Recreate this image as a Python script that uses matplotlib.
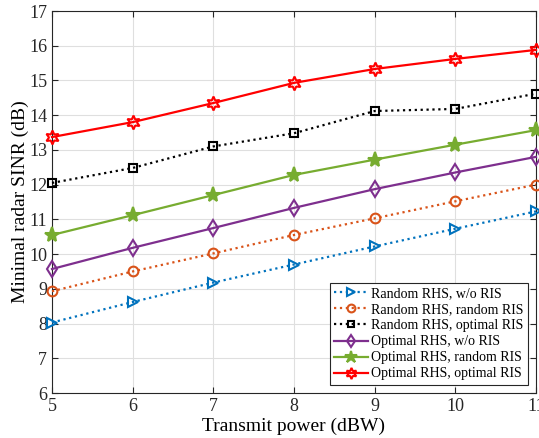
import matplotlib
matplotlib.use("Agg")
import matplotlib.pyplot as plt

plt.rcParams['font.family'] = ['Liberation Serif', 'DejaVu Serif']
plt.rcParams['mathtext.fontset'] = 'stix'

power = [5, 6, 7, 8, 9, 10, 11]
rand_wo = [8.03, 8.62, 9.18, 9.70, 10.22, 10.73, 11.23]
rand_rand = [8.93, 9.50, 10.02, 10.55, 11.03, 11.52, 12.00]
rand_opt = [12.05, 12.48, 13.10, 13.48, 14.12, 14.18, 14.62]
opt_wo = [9.57, 10.18, 10.75, 11.33, 11.87, 12.35, 12.80]
opt_rand = [10.55, 11.12, 11.70, 12.28, 12.72, 13.15, 13.57]
opt_opt = [13.37, 13.80, 14.35, 14.93, 15.33, 15.62, 15.88]
labels = ["Random RHS, w/o RIS", "Random RHS, random RIS", "Random RHS, optimal RIS",
          "Optimal RHS, w/o RIS", "Optimal RHS, random RIS", "Optimal RHS, optimal RIS"]

fig = plt.figure(figsize=(5.39, 4.38), dpi=100)
ax = fig.add_axes([52/539, 1 - 393/438, (536-52)/539, (393-11)/438])

series = [
    (rand_wo, '#0072BD', ':', '>', 'none', 7),
    (rand_rand, '#D95319', ':', 'o', 'none', 7),
    (rand_opt, 'black', ':', 's', 'none', 6),
    (opt_wo, '#7E2F8E', '-', 'd', 'none', 8),
    (opt_rand, '#77AC30', '-', '*', '#77AC30', 11),
    (opt_opt, '#FF0000', '-', (6, 1, 0), 'none', 10),
]
for (vals, c, ls, mk, mfc, ms), lab in zip(series, labels):
    ax.plot(power, vals, color=c, linestyle=ls, marker=mk, markerfacecolor=mfc,
            markeredgecolor=c, markersize=ms, markeredgewidth=1.5, linewidth=1.6,
            label=lab, clip_on=False, zorder=3)

ax.set_xlim(5, 11)
ax.set_ylim(6, 17)
ax.set_xticks(power)
ax.set_yticks(range(6, 18))
ax.grid(True, color='#DFDFDF', linewidth=0.8)
ax.set_axisbelow(True)
ax.tick_params(direction='in', top=True, right=True, labelsize=13, length=4, colors='#262626')
for s in ax.spines.values():
    s.set_color('#262626')
    s.set_linewidth(0.8)
ax.set_xlabel('Transmit power (dBW)', fontsize=14, labelpad=2)
ax.set_ylabel('Minimal radar SINR (dB)', fontsize=14, labelpad=0)
leg = ax.legend(loc='lower right', fontsize=10, frameon=True, fancybox=False,
                edgecolor='#262626', framealpha=1, borderpad=0.3, labelspacing=0.22,
                handlelength=2.45, handletextpad=0.2, borderaxespad=0.6, markerscale=0.8)
leg.get_frame().set_linewidth(0.8)

fig.savefig('out.png', dpi=100)
